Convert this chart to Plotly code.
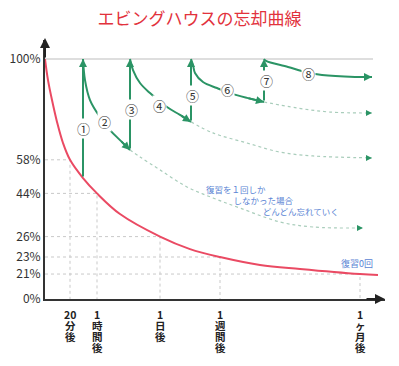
import re
import plotly.graph_objects as go

# ---------------- data (schematic display units) ----------------
# x: elapsed time on a schematic scale, y: retention position (%)
time_pos = [25, 52, 115, 175, 315]
time_labels = ["20分後", "1時間後", "1日後", "1週間後", "1ヶ月後"]
ret_pos = [100, 58, 44, 26, 17.5, 10.4, 0]
ret_labels = ["100%", "58%", "44%", "26%", "23%", "21%", "0%"]

# key points on the no-review curve (for drop lines)
key_x = [25, 52, 115, 175, 315]
key_y = [58, 44, 26, 17.5, 10.4]

# no review (red)
forget_x = [0, 3, 7, 12, 18, 25, 38, 52, 75, 115, 145, 175, 215, 255, 315, 333]
forget_y = [100, 91.2, 82.9, 73.8, 65, 58, 50.4, 44, 35.4, 26, 20.8, 17.5, 14.2, 12.5, 10.4, 10]

# review curves (green)
c2_x = [38, 40, 45, 55, 65, 75, 85]
c2_y = [100, 91.2, 82.9, 75.8, 70.4, 66.2, 62.1]
c4_x = [85, 88, 95, 105, 122, 135, 146]
c4_y = [100, 95.4, 90, 85.8, 80, 76.7, 73.8]
c6_x = [146, 148, 150, 158, 172, 185, 202, 219]
c6_y = [100, 97.5, 94.2, 90.4, 87.9, 85.8, 83.8, 82.1]
c8_x = [219, 221, 243, 260, 277, 310, 327]
c8_y = [100, 99.2, 96.7, 94.6, 93.3, 92.5, 92.5]

# continuation if not reviewed further (dotted)
d1_x = [85, 95, 115, 142, 168, 195, 235, 268, 318]
d1_y = [62.1, 59.2, 53.8, 46.7, 42.1, 37.9, 32.1, 30, 29.6]
d2_x = [146, 168, 202, 235, 268, 327]
d2_y = [73.8, 69.2, 65, 61.2, 59.6, 58.8]
d3_x = [219, 252, 285, 327]
d3_y = [82.1, 79.6, 77.9, 77.5]

# review jumps (x, from y)
review_x = [38, 85, 146, 219]
review_from = [50.4, 62.1, 73.8, 82.1]

# circled step labels
step_labels = ["①", "②", "③", "④", "⑤", "⑥", "⑦", "⑧"]
step_x = [38, 59, 86, 114, 147, 182, 221, 263]
step_y = [71, 74, 78.8, 80.8, 84.6, 87.5, 91.2, 93.8]

GREEN = "#2b9465"
DOT = "#a9cdbb"
RED = "#ea4a63"
BLUE = "#5a84d4"
GRID = "#c9c9c9"
FONT = "Noto Sans CJK JP"

fig = go.Figure()

# drop lines
for kx, ky in zip(key_x, key_y):
    fig.add_trace(go.Scatter(x=[0, kx, kx], y=[ky, ky, 0], mode="lines",
                             line=dict(color=GRID, width=1, dash="dot"), hoverinfo="skip"))
# 100% line
fig.add_trace(go.Scatter(x=[0, 328], y=[100, 100], mode="lines",
                         line=dict(color="#bdbdbd", width=1), hoverinfo="skip"))

# dotted continuations
for dx, dy in [(d1_x, d1_y), (d2_x, d2_y), (d3_x, d3_y)]:
    fig.add_trace(go.Scatter(x=dx, y=dy, mode="lines", line_shape="spline",
                             line=dict(color=DOT, width=1.2, dash="dot"), hoverinfo="skip"))
    fig.add_annotation(x=dx[-1], y=dy[-1], ax=dx[-1] - 4, ay=dy[-1], axref="x", ayref="y",
                       showarrow=True, arrowhead=2, arrowsize=1, arrowwidth=1.2,
                       arrowcolor=GREEN, text="")

# red curve
fig.add_trace(go.Scatter(x=forget_x, y=forget_y, mode="lines", line_shape="spline",
                         line=dict(color=RED, width=2), hoverinfo="skip"))

# green curves
for cx, cy in [(c2_x, c2_y), (c4_x, c4_y), (c6_x, c6_y), (c8_x, c8_y)]:
    fig.add_trace(go.Scatter(x=cx, y=cy, mode="lines", line_shape="spline",
                             line=dict(color=GREEN, width=2), hoverinfo="skip"))
    fig.add_annotation(x=cx[-1], y=cy[-1], ax=cx[-2], ay=cy[-2], axref="x", ayref="y",
                       showarrow=True, arrowhead=2, arrowsize=0.8, arrowwidth=2,
                       arrowcolor=GREEN, text="", standoff=0)

# review arrows
for rx, ry in zip(review_x, review_from):
    fig.add_annotation(x=rx, y=100, ax=rx, ay=ry, axref="x", ayref="y",
                       showarrow=True, arrowhead=2, arrowsize=0.8, arrowwidth=2,
                       arrowcolor=GREEN, text="")

# step labels
for t, sx, sy in zip(step_labels, step_x, step_y):
    fig.add_annotation(x=sx, y=sy, text=t, showarrow=False, bgcolor="white",
                       font=dict(family=FONT, size=13, color="#333"), borderpad=0)

# texts
fig.add_annotation(x=312, y=15, text="復習0回", showarrow=False,
                   font=dict(family=FONT, size=9, color=BLUE))
NB = "\u00a0"
fig.add_annotation(x=160, y=48.8, yanchor="top", xanchor="left", align="left",
                   text="復習を１回しか<br>　　　" + NB + "しなかった場合<br>　　　　　　" + NB * 3 + "どんどん忘れていく",
                   showarrow=False, font=dict(family=FONT, size=8.5, color=BLUE), borderpad=0)

# vertical (stacked) time labels under the x axis
PLOT_H = 259  # plot area height in px
for tx, lab in zip(time_pos, time_labels):
    m = re.match(r"(\d+)(.*)", lab)
    lines = [m.group(1)] + list(m.group(2))
    for i, ch in enumerate(lines):
        fig.add_annotation(x=tx, xref="x", yref="paper", y=-(15.5 + 11 * i) / PLOT_H,
                           text=ch, showarrow=False, yanchor="middle", borderpad=0,
                           font=dict(family=FONT, size=10.5, color="#222", weight="bold"))

# axis arrows
fig.add_annotation(x=0, y=108.8, ax=0, ay=100, axref="x", ayref="y", showarrow=True,
                   arrowhead=2, arrowsize=1, arrowwidth=2, arrowcolor="#222", text="")
fig.add_annotation(x=340, y=0, ax=320, ay=0, axref="x", ayref="y", showarrow=True,
                   arrowhead=2, arrowsize=1, arrowwidth=2, arrowcolor="#222", text="")

fig.update_layout(
    width=399, height=366,
    margin=dict(l=45, r=14, t=40, b=67, autoexpand=False),
    paper_bgcolor="white", plot_bgcolor="white",
    showlegend=False,
    title=dict(text="エビングハウスの忘却曲線", x=0.5, xanchor="center", y=0.949,
               yanchor="middle", font=dict(family=FONT, size=17, color="#e2323c")),
    xaxis=dict(range=[0, 340], showgrid=False, zeroline=False, showline=True, automargin=False,
               linecolor="#333", linewidth=2, tickvals=time_pos, showticklabels=False, ticks=""),
    yaxis=dict(range=[0, 107.92], showgrid=False, zeroline=False, showline=True, automargin=False,
               linecolor="#333", linewidth=2, tickvals=ret_pos, ticktext=ret_labels,
               ticks="", tickfont=dict(family=FONT, size=12, color="#333")),
)

# remove the default 8px page margin so the figure fills the window exactly
fig.write_html("out.html", config={"displayModeBar": False},
               post_script="document.body.style.margin='0';document.body.style.overflow='hidden';")
